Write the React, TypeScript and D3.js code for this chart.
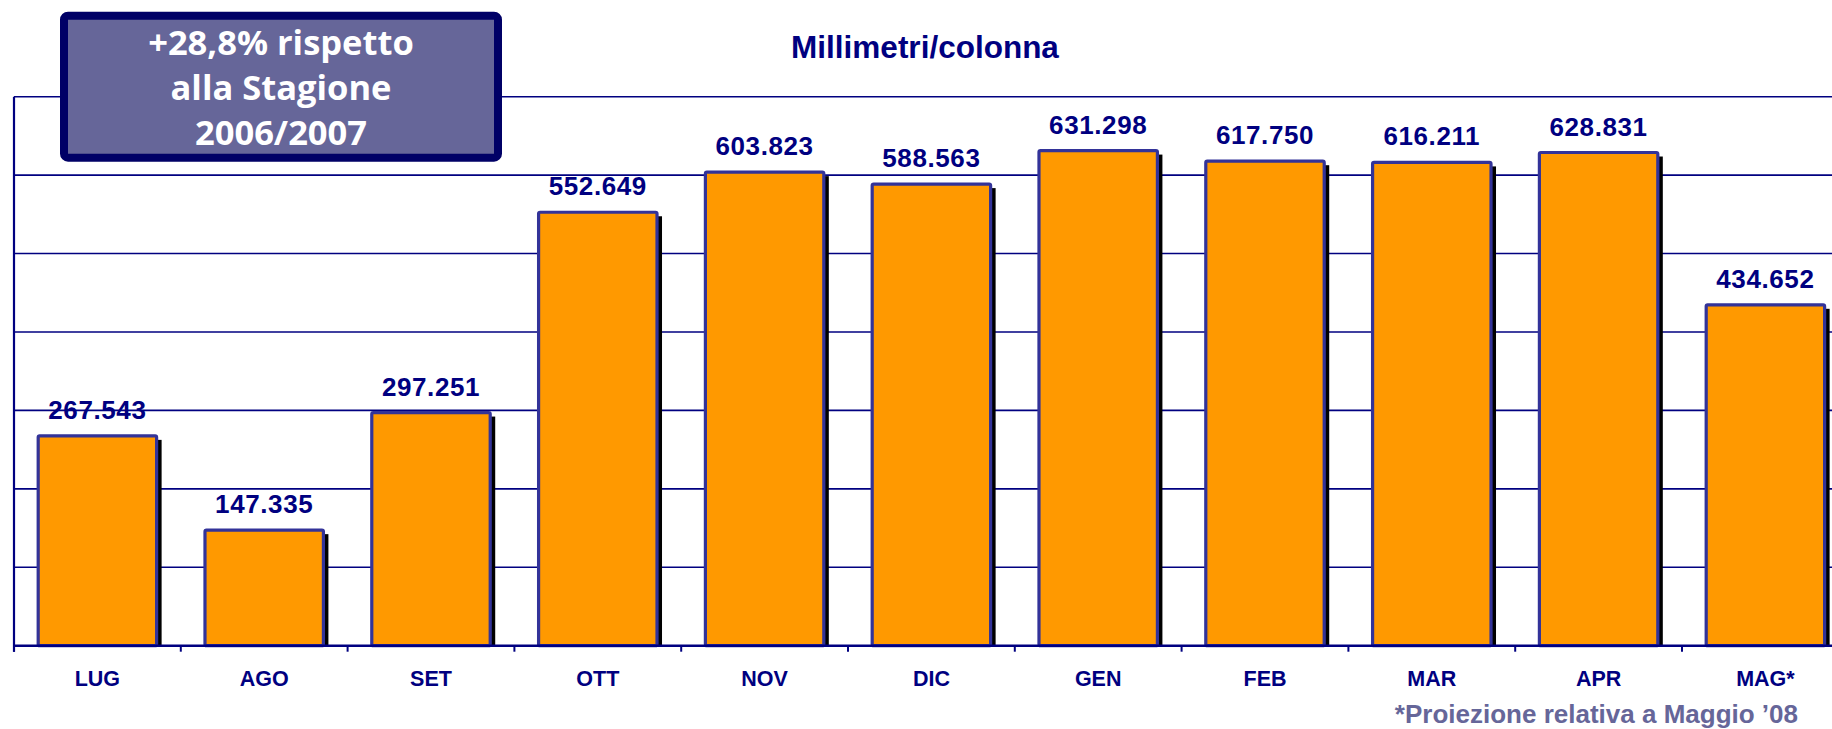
import React from "react";
import * as d3 from "d3";

const categories = ["LUG", "AGO", "SET", "OTT", "NOV", "DIC", "GEN", "FEB", "MAR", "APR", "MAG*"];
const values = [267.543, 147.335, 297.251, 552.649, 603.823, 588.563, 631.298, 617.75, 616.211, 628.831, 434.652];
const valueLabels = ["267.543", "147.335", "297.251", "552.649", "603.823", "588.563", "631.298", "617.750", "616.211", "628.831", "434.652"];
const yTicks = [0, 100, 200, 300, 400, 500, 600, 700];
const title = "Millimetri/colonna";
const boxLines = ["+28,8% rispetto", "alla Stagione", "2006/2007"];
const footnote = "*Proiezione relativa a Maggio \u201908";

const W = 1832;
const H = 729;
const NAVY = "#000080";

export default function App() {
  const left = 14;
  const bandW = 166.8;
  const right = left + bandW * categories.length;
  const x = d3.scaleBand<string>().domain(categories).range([left, right]).paddingInner(0.29).paddingOuter(0.145);
  const y = d3.scaleLinear().domain([0, 700]).range([645.7, 96.7]);
  const baseY = y(0);
  const boundaries = d3.range(categories.length + 1).map((i) => left + i * bandW);

  return (
    <svg width={W} height={H} style={{ position: "absolute", left: 0, top: 0, background: "#fff" }}>
      {yTicks.slice(1).map((t) => (
        <line key={t} x1={left} x2={W} y1={y(t)} y2={y(t)} stroke={NAVY} strokeWidth={1.6} />
      ))}
      {categories.map((c, i) => {
        const bx = x(c)!;
        const bw = x.bandwidth();
        const by = y(values[i]);
        return (
          <g key={c}>
            <rect x={bx + 5} y={by + 4} width={bw} height={baseY - by - 4} fill="#000" />
            <rect x={bx} y={by} width={bw} height={baseY - by} fill="#FF9900" stroke="#333399" strokeWidth={3.2} rx={1.5} />
            <text
              x={bx + bw / 2}
              y={by - 17}
              textAnchor="middle"
              fontFamily="'Liberation Sans', Arial, sans-serif"
              fontWeight="bold"
              fontSize={26}
              letterSpacing={0.6}
              fill={NAVY}
            >
              {valueLabels[i]}
            </text>
            <text
              x={left + (i + 0.5) * bandW}
              y={685.7}
              textAnchor="middle"
              fontFamily="'Liberation Sans', Arial, sans-serif"
              fontWeight="bold"
              fontSize={21.5}
              fill={NAVY}
            >
              {c}
            </text>
          </g>
        );
      })}
      <line x1={left} x2={W} y1={baseY} y2={baseY} stroke={NAVY} strokeWidth={2.6} />
      <line x1={left} x2={left} y1={y(700)} y2={baseY + 6} stroke={NAVY} strokeWidth={2.2} />
      {boundaries.map((bx, i) => (
        <line key={i} x1={bx} x2={bx} y1={baseY} y2={baseY + 6} stroke={NAVY} strokeWidth={2} />
      ))}
      <text
        x={925}
        y={58.3}
        textAnchor="middle"
        fontFamily="'Liberation Sans', Arial, sans-serif"
        fontWeight="bold"
        fontSize={31.5}
        fill={NAVY}
      >
        {title}
      </text>
      <rect x={64} y={15.7} width={434} height={142} rx={4} fill="#666699" stroke="#000066" strokeWidth={8} />
      {boxLines.map((l, i) => (
        <text
          key={i}
          x={281}
          y={55 + i * 45}
          textAnchor="middle"
          fontFamily="'Open Sans', sans-serif"
          fontWeight={700}
          fontSize={34.5}
          fill="#fff"
        >
          {l}
        </text>
      ))}
      <text
        x={1798}
        y={722.5}
        textAnchor="end"
        fontFamily="'Liberation Sans', Arial, sans-serif"
        fontWeight="bold"
        fontSize={26}
        fill="#666699"
      >
        {footnote}
      </text>
    </svg>
  );
}
